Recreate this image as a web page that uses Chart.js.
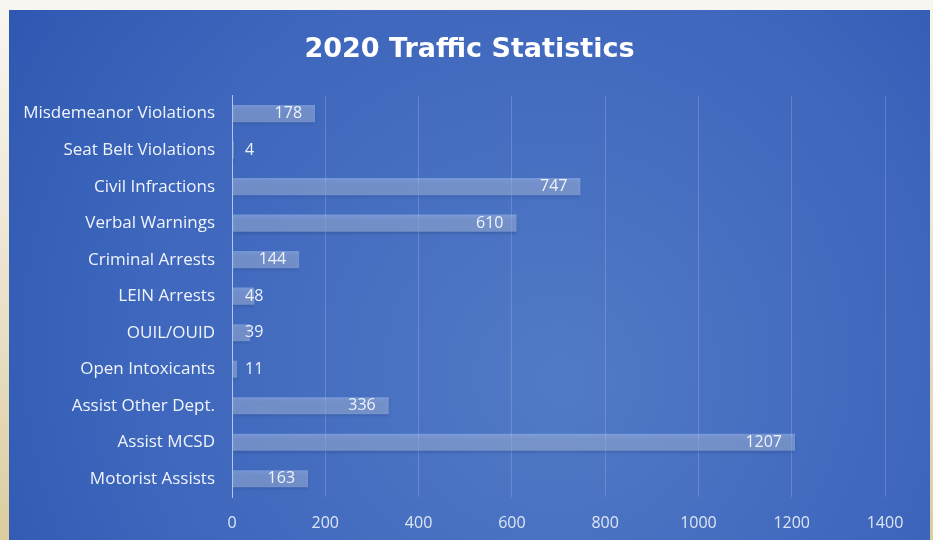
<!DOCTYPE html>
<html>
<head>
<meta charset="utf-8">
<script src="https://cdn.jsdelivr.net/npm/chart.js@4"></script>
<style>
  html, body { margin: 0; padding: 0; }
  body {
    width: 933px; height: 540px; overflow: hidden;
    background: linear-gradient(to bottom, #f8f6f2 0px, #efe8d8 40%, #dccd9f 100%);
    position: relative;
  }
  #panel {
    position: absolute; left: 9px; top: 10px; width: 921px; height: 530px;
  }
</style>
</head>
<body>
<div id="panel"><canvas id="trafficChart"></canvas></div>
<script>
// categorias e valores
const categories = [
    'Misdemeanor Violations',
    'Seat Belt Violations',
    'Civil Infractions',
    'Verbal Warnings',
    'Criminal Arrests',
    'LEIN Arrests',
    'OUIL/OUID',
    'Open Intoxicants',
    'Assist Other Dept.',
    'Assist MCSD',
    'Motorist Assists'
];
const counts = [178, 4, 747, 610, 144, 48, 39, 11, 336, 1207, 163];
const xTicks = [0, 200, 400, 600, 800, 1000, 1200, 1400];

const FONT = "'Open Sans', 'DejaVu Sans', sans-serif";

// fundo azul com gradiente
const panelBackground = {
    id: 'panelBackground',
    beforeDraw(chart) {
        const { ctx, width, height } = chart;
        ctx.save();
        const g = ctx.createRadialGradient(width * 0.6, height * 0.7, 20, width * 0.55, height * 0.6, width * 0.75);
        g.addColorStop(0, '#5079c6');
        g.addColorStop(0.55, '#3e67bd');
        g.addColorStop(1, '#2952ae');
        ctx.fillStyle = g;
        ctx.fillRect(0, 0, width, height);
        ctx.restore();
    }
};

// sombra nas barras
const barShadow = {
    id: 'barShadow',
    beforeDatasetsDraw(chart) {
        const ctx = chart.ctx;
        ctx.save();
        ctx.shadowColor = 'rgba(10, 25, 70, 0.45)';
        ctx.shadowBlur = 3;
        ctx.shadowOffsetY = 2;
    },
    afterDatasetsDraw(chart) {
        chart.ctx.restore();
    }
};

// rótulos dos valores
const valueLabels = {
    id: 'valueLabels',
    afterDatasetsDraw(chart) {
        const ctx = chart.ctx;
        const meta = chart.getDatasetMeta(0);
        const zero = chart.scales.x.getPixelForValue(0);
        ctx.save();
        ctx.font = '16px ' + FONT;
        ctx.fillStyle = '#eef2fa';
        ctx.textBaseline = 'middle';
        meta.data.forEach((bar, i) => {
            const text = String(counts[i]);
            if (bar.x - zero > 55) {
                ctx.textAlign = 'right';
                ctx.fillText(text, bar.x - 13, bar.y);
            } else {
                ctx.textAlign = 'left';
                ctx.fillText(text, zero + 13, bar.y);
            }
        });
        ctx.restore();
    }
};

new Chart(document.getElementById('trafficChart'), {
    type: 'bar',
    data: {
        labels: categories,
        datasets: [{
            data: counts,
            backgroundColor: 'rgba(185, 205, 240, 0.45)',
            borderWidth: 0,
            barPercentage: 0.47,
            categoryPercentage: 1
        }]
    },
    options: {
        indexAxis: 'y',
        responsive: true,
        maintainAspectRatio: false,
        animation: false,
        layout: { padding: 0 },
        plugins: {
            legend: { display: false },
            tooltip: { enabled: false },
            title: {
                display: true,
                text: '2020 Traffic Statistics',
                color: '#ffffff',
                font: { family: "'DejaVu Sans', sans-serif", size: 27, weight: 'bold' },
                padding: { top: 24, bottom: 29 }
            }
        },
        scales: {
            x: {
                min: 0,
                max: 1400,
                afterBuildTicks(scale) {
                    scale.ticks = xTicks.map(v => ({ value: v }));
                },
                afterFit(scale) {
                    scale.height = 43;
                    scale.paddingRight = 45;
                },
                grid: { color: 'rgba(255,255,255,0.17)', drawTicks: false },
                border: { display: false },
                ticks: {
                    color: '#dfe6f3',
                    padding: 17,
                    font: { family: FONT, size: 16 },
                    callback: v => String(v)
                }
            },
            y: {
                afterFit(scale) { scale.width = 223; },
                grid: { display: false, drawTicks: false },
                border: { color: 'rgba(255,255,255,0.55)', width: 1 },
                ticks: {
                    color: '#f0f4fa',
                    padding: 17,
                    font: { family: FONT, size: 17 }
                }
            }
        }
    },
    plugins: [panelBackground, barShadow, valueLabels]
});
</script>
</body>
</html>
